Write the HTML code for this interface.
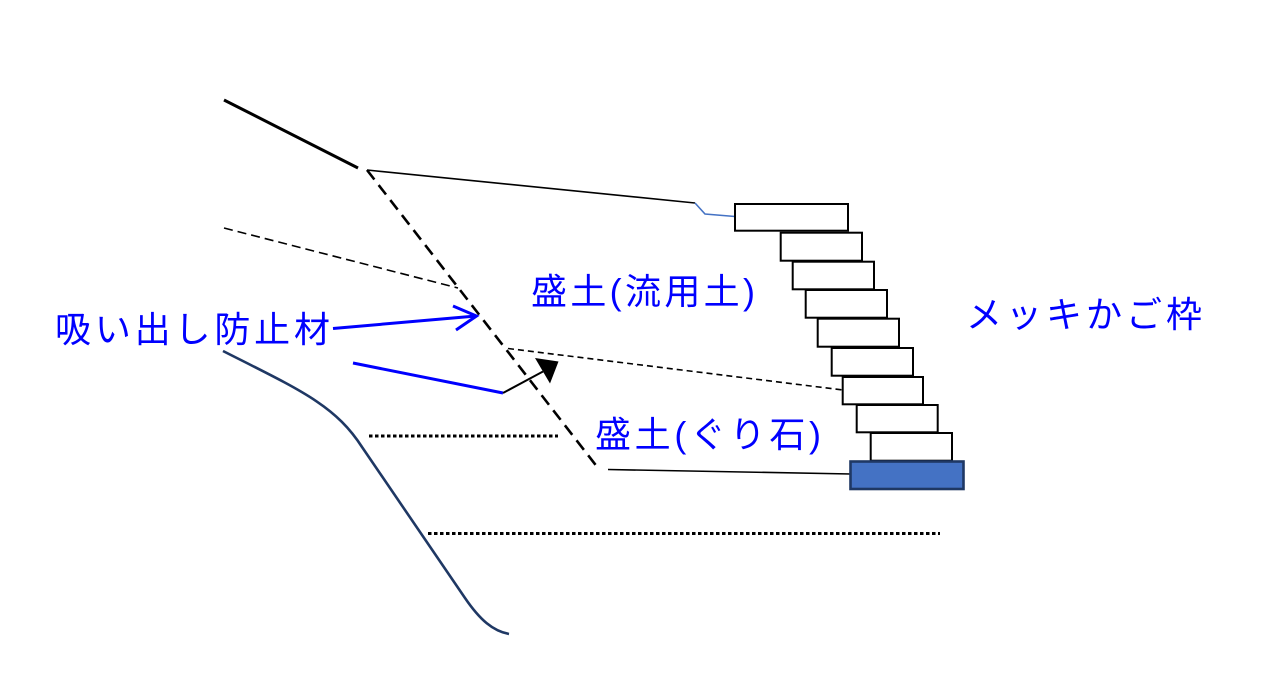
<!DOCTYPE html>
<html><head><meta charset="utf-8"><style>
html,body{margin:0;padding:0;background:#fff;}
svg{display:block;}
text{font-family:"Liberation Sans","Noto Sans CJK JP",sans-serif;fill:#0000ff;font-size:36px;}
</style></head><body>
<svg width="1272" height="698" viewBox="0 0 1272 698" xmlns="http://www.w3.org/2000/svg">
<rect width="1272" height="698" fill="#fff"/>
<!-- upper thick line -->
<line x1="224" y1="100" x2="358" y2="168" stroke="#000" stroke-width="3"/>
<!-- thin line to box -->
<line x1="367" y1="170" x2="695" y2="203" stroke="#000" stroke-width="1.6"/>
<polyline points="695,203 705,214 735,216.5" fill="none" stroke="#4472C4" stroke-width="1.6"/>
<!-- main dashed diagonal -->
<line x1="367" y1="170" x2="598" y2="468" stroke="#000" stroke-width="2.6" stroke-dasharray="12 7"/>
<!-- dashed line 2 -->
<line x1="224" y1="228" x2="458" y2="288" stroke="#000" stroke-width="1.6" stroke-dasharray="9 5"/>
<!-- dashed line 3 -->
<line x1="508" y1="348.5" x2="843" y2="390" stroke="#000" stroke-width="1.6" stroke-dasharray="6 4"/>
<!-- dotted lines -->
<line x1="369" y1="436" x2="558" y2="436" stroke="#000" stroke-width="3" stroke-dasharray="3.5 2.5"/>
<line x1="428" y1="533.5" x2="940" y2="533.5" stroke="#000" stroke-width="3" stroke-dasharray="3.5 2.5"/>
<!-- bottom line -->
<line x1="608" y1="469.5" x2="851" y2="474" stroke="#000" stroke-width="1.6"/>
<!-- navy curve -->
<path d="M223,351 C300,390 335,405 362,447 L465,598 C480,620 493,631 509,634" fill="none" stroke="#1F3864" stroke-width="2.6"/>
<!-- blue arrow -->
<line x1="333" y1="328.5" x2="476" y2="316" stroke="#0000ff" stroke-width="3"/>
<polyline points="453,306 476.5,316 456,330" fill="none" stroke="#0000ff" stroke-width="3"/>
<!-- blue line + black arrow -->
<line x1="353" y1="363" x2="503" y2="393" stroke="#0000ff" stroke-width="3"/>
<line x1="503" y1="393" x2="543" y2="371.5" stroke="#000" stroke-width="2"/>
<polygon points="535,358 558.5,361.5 550,383.5" fill="#000"/>
<!-- gabion boxes -->
<g fill="#fff" stroke="#000" stroke-width="2">
<rect x="735" y="204" width="113" height="26.7"/>
<rect x="780.7" y="232.7" width="81.3" height="28"/>
<rect x="792.7" y="261.7" width="81.3" height="27.6"/>
<rect x="805.7" y="290" width="81.3" height="27.7"/>
<rect x="817.7" y="318.7" width="81.3" height="28"/>
<rect x="831.7" y="348" width="81.3" height="27.7"/>
<rect x="842.7" y="377" width="80.3" height="27.3"/>
<rect x="856.7" y="405" width="81" height="27.3"/>
<rect x="870.7" y="433" width="81.3" height="27.7"/>
</g>
<rect x="850.5" y="461.5" width="113" height="27.5" fill="#4472C4" stroke="#1F3864" stroke-width="2.6"/>
<!-- labels -->
<text x="55" y="342" textLength="275" lengthAdjust="spacing">吸い出し防止材</text>
<text x="531" y="304" textLength="224" lengthAdjust="spacing">盛土(流用土)</text>
<text x="595" y="447" textLength="226" lengthAdjust="spacing">盛土(ぐり石)</text>
<text x="966" y="327" textLength="236" lengthAdjust="spacing">メッキかご枠</text>
</svg>
</body></html>
